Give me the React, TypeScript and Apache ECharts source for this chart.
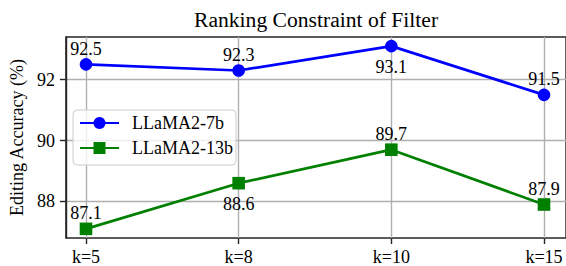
import React, { useEffect, useRef } from "react";
import * as echarts from "echarts";

const categories = ["k=5", "k=8", "k=10", "k=15"];
const llama7b = [92.5, 92.3, 93.1, 91.5];
const llama13b = [87.1, 88.6, 89.7, 87.9];
const labelPos7b = ["top", "top", "bottom", "top"];
const labelPos13b = ["top", "bottom", "top", "top"];
const yTicks = [88, 90, 92];
const yMin = 86.8;
const yMax = 93.4;

const FONT = "'Liberation Serif', 'Times New Roman', serif";
const AXIS = "#262626";
const GRIDC = "#b0b0b0";

function withLabels(vals: number[], pos: string[]) {
  return vals.map((v, i) => ({
    value: v,
    label: {
      position: pos[i],
      distance: pos[i] === "top" ? 0.5 : 5.5,
    },
  }));
}

export default function App() {
  const ref = useRef<HTMLDivElement>(null);
  useEffect(() => {
    if (!ref.current) return;
    const chart = echarts.init(ref.current, null, { renderer: "svg" });
    const labelCommon = {
      show: true,
      fontFamily: FONT,
      fontSize: 18,
      fontWeight: "normal",
      lineHeight: 18,
      color: "#000",
      formatter: (p: any) => String(p.value),
    };
    chart.setOption({
      animation: false,
      backgroundColor: "#fff",
      textStyle: { fontFamily: FONT },
      title: {
        text: "Ranking Constraint of Filter",
        left: 194,
        top: 9,
        padding: 0,
        textStyle: { fontFamily: FONT, fontSize: 21.6, fontWeight: "normal", color: "#000" },
      },
      legend: {
        orient: "vertical",
        left: 73,
        top: 110,
        padding: [4, 3, 8, 6],
        itemGap: 7,
        itemWidth: 39,
        itemHeight: 15,
        backgroundColor: "rgba(255,255,255,0.8)",
        borderColor: "#cccccc",
        borderWidth: 1,
        borderRadius: 4,
        textStyle: {
          fontFamily: FONT,
          fontSize: 18,
          lineHeight: 18,
          color: "#000",
          padding: [0, 0, 0, 8],
        },
        data: ["LLaMA2-7b", "LLaMA2-13b"],
      },
      grid: [
        {
          left: 63,
          top: 37,
          width: 504,
          height: 201,
          show: true,
          borderColor: AXIS,
          borderWidth: 1.4,
          backgroundColor: "transparent",
        },
        {
          left: 86,
          top: 37,
          width: 458,
          height: 201,
        },
      ],
      xAxis: [
        { gridIndex: 0, type: "value", min: 0, max: 1, show: false },
        {
          gridIndex: 1,
          type: "category",
          data: categories,
          boundaryGap: false,
          axisLine: { show: false },
          axisTick: {
            show: true,
            alignWithLabel: true,
            length: 6,
            lineStyle: { color: AXIS, width: 1.4 },
          },
          axisLabel: {
            fontFamily: FONT,
            fontSize: 18,
            fontWeight: "normal",
            color: "#000",
            margin: 10,
          },
          splitLine: { show: true, lineStyle: { color: GRIDC, width: 1.4 } },
        },
      ],
      yAxis: [
        {
          gridIndex: 0,
          type: "value",
          min: yMin,
          max: yMax,
          name: "Editing Accuracy (%)",
          nameLocation: "middle",
          nameGap: 32,
          nameTextStyle: { fontFamily: FONT, fontSize: 18, color: "#000" },
          axisLine: { show: true, lineStyle: { color: AXIS, width: 1.4 } },
          axisTick: {
            show: true,
            length: 6,
            customValues: yTicks,
            lineStyle: { color: AXIS, width: 1.4 },
          },
          axisLabel: {
            fontFamily: FONT,
            fontSize: 18,
            fontWeight: "normal",
            color: "#000",
            margin: 11,
            customValues: yTicks,
          },
          splitLine: { show: true, lineStyle: { color: GRIDC, width: 1.4 } },
        },
        {
          gridIndex: 1,
          type: "value",
          min: yMin,
          max: yMax,
          show: false,
          splitLine: { show: false },
        },
      ],
      series: [
        {
          name: "LLaMA2-7b",
          type: "line",
          xAxisIndex: 1,
          yAxisIndex: 1,
          data: withLabels(llama7b, labelPos7b),
          symbol: "circle",
          symbolSize: 12.6,
          color: "#0000ff",
          lineStyle: { color: "#0000ff", width: 2.7 },
          itemStyle: { color: "#0000ff" },
          label: labelCommon,
          z: 5,
        },
        {
          name: "LLaMA2-13b",
          type: "line",
          xAxisIndex: 1,
          yAxisIndex: 1,
          data: withLabels(llama13b, labelPos13b),
          symbol: "rect",
          symbolSize: 12.6,
          color: "#008000",
          lineStyle: { color: "#008000", width: 2.7 },
          itemStyle: { color: "#008000" },
          label: labelCommon,
          z: 5,
        },
      ],
    });
    return () => chart.dispose();
  }, []);
  return (
    <div
      ref={ref}
      style={{ position: "fixed", left: 0, top: 0, width: 566, height: 266 }}
    />
  );
}
